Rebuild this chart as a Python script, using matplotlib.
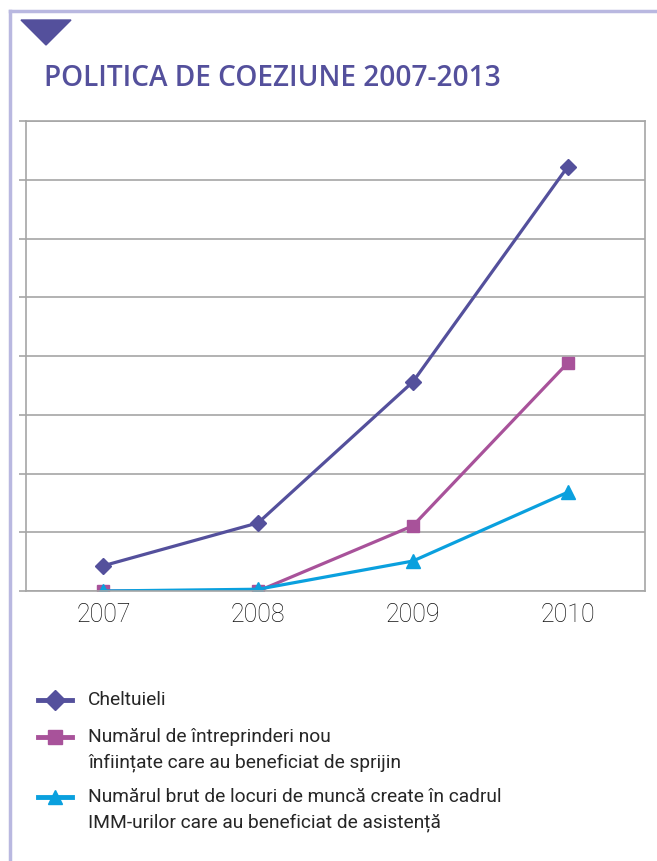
import matplotlib.pyplot as plt
from matplotlib.lines import Line2D
from matplotlib.patches import Polygon

# date (unitati relative, 8 diviziuni)
ani = ['2007', '2008', '2009', '2010']
cheltuieli = [0.43, 1.16, 3.56, 7.22]
intreprinderi = [0.0, 0.0, 1.11, 3.88]
locuri_munca = [0.0, 0.03, 0.51, 1.68]

etichete = ['Cheltuieli',
            'Numărul de întreprinderi nou\nînființate care au beneficiat de sprijin',
            'Numărul brut de locuri de muncă create în cadrul\nIMM-urilor care au beneficiat de asistență']

mov = '#54509c'
magenta = '#a8529a'
cyan = '#0aa0de'
gri = '#a6a6a6'

plt.rcParams['font.family'] = ['Roboto', 'DejaVu Sans']

fig = plt.figure(figsize=(6.57, 8.61), dpi=100)
ax = fig.add_axes([26/657, 1 - 591/861, 619/657, 470/861])

x = list(range(len(ani)))
ax.plot(x, cheltuieli, color=mov, lw=2.3, marker='D', ms=8.5, label=etichete[0])
ax.plot(x, intreprinderi, color=magenta, lw=2.3, marker='s', ms=9, label=etichete[1])
ax.plot(x, locuri_munca, color=cyan, lw=2.3, marker='^', ms=10, label=etichete[2])

ax.set_xlim(-0.5, 3.5)
ax.set_ylim(0, 8)
ax.set_yticks(range(0, 9))
ax.set_yticklabels([])
ax.set_xticks(x)
ax.set_xticklabels(ani, fontsize=18, color='#111111', fontweight='light')
ax.tick_params(axis='x', length=0, pad=9)
ax.tick_params(axis='y', length=5, width=1.2, color=gri)
ax.grid(axis='y', color=gri, lw=1.2)
ax.set_axisbelow(True)
for s in ax.spines.values():
    s.set_color(gri)
    s.set_linewidth(1.2)

# chenar si triunghi
fig.add_artist(Line2D([9.5/657, 9.5/657], [0, 1 - 11/861], color='#b9b8e0', lw=2.5))
fig.add_artist(Line2D([9.5/657, 1], [1 - 11/861, 1 - 11/861], color='#b9b8e0', lw=2.5))
fig.add_artist(Polygon([[21/657, 1 - 20/861], [71/657, 1 - 20/861], [46/657, 1 - 45/861]],
                       closed=True, color=mov, transform=fig.transFigure))

fig.text(44/657, 1 - 78/861, 'POLITICA DE COEZIUNE 2007-2013', color=mov,
         fontsize=20.2, fontweight='semibold', va='center', family=['Open Sans', 'DejaVu Sans'])

# legenda
culori = [mov, magenta, cyan]
markere = ['D', 's', '^']
pozitii_y = [700, 737, 797]
for c, m, yy, et in zip(culori, markere, pozitii_y, etichete):
    fy = 1 - yy/861
    fig.add_artist(Line2D([38/657, 72/657], [fy, fy], color=c, lw=3.5))
    fig.add_artist(Line2D([55/657], [fy], color=c, marker=m, ms=10, lw=0))
    fig.text(88/657, fy + 9/861, et, fontsize=13.75, color='#262626', va='top',
             linespacing=1.52)

fig.savefig('out.png', dpi=100)
